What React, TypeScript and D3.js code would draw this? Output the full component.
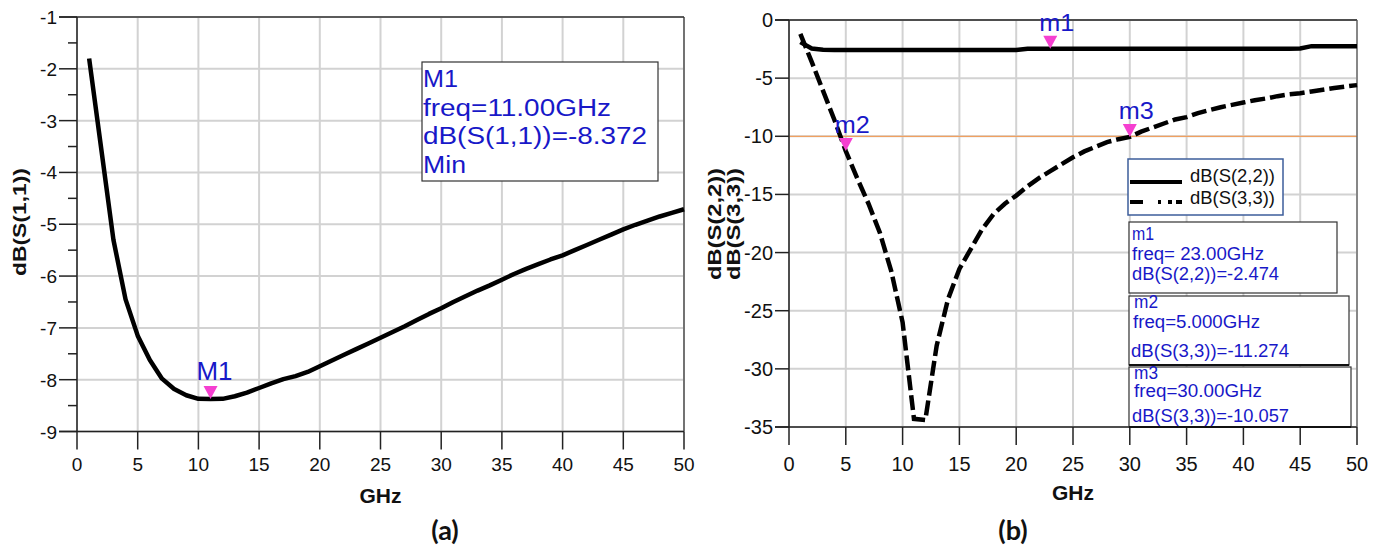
import React from 'react';
import * as d3 from 'd3';

// frequency grid (GHz) shared by all traces
const freqs = [
  1, 2, 3, 4, 5, 6, 7, 8, 9, 10, 11, 12, 13, 14, 15, 16, 17, 18, 19, 20, 21, 22, 23, 24, 25,
  26, 27, 28, 29, 30, 31, 32, 33, 34, 35, 36, 37, 38, 39, 40, 41, 42, 43, 44, 45, 46, 47, 48, 49, 50,
];

const s11 = [
  -1.8, -3.55, -5.3, -6.45, -7.15, -7.62, -7.98, -8.18, -8.3, -8.37, -8.372, -8.37, -8.32, -8.25,
  -8.16, -8.07, -7.99, -7.93, -7.85, -7.74, -7.63, -7.52, -7.41, -7.3, -7.19, -7.08, -6.97, -6.85,
  -6.73, -6.62, -6.5, -6.39, -6.28, -6.18, -6.07, -5.96, -5.86, -5.77, -5.68, -5.6, -5.5, -5.4,
  -5.3, -5.2, -5.1, -5.01, -4.93, -4.85, -4.78, -4.71,
];

const s22 = [
  -1.9, -2.45, -2.55, -2.58, -2.58, -2.58, -2.58, -2.58, -2.58, -2.58, -2.58, -2.58, -2.58, -2.58,
  -2.58, -2.58, -2.58, -2.58, -2.58, -2.58, -2.47, -2.474, -2.474, -2.474, -2.474, -2.474, -2.474,
  -2.474, -2.474, -2.474, -2.474, -2.474, -2.474, -2.474, -2.474, -2.474, -2.474, -2.474, -2.474,
  -2.474, -2.474, -2.474, -2.474, -2.474, -2.45, -2.25, -2.25, -2.25, -2.25, -2.25,
];

const s33 = [
  -1.2, -3.6, -6.1, -8.6, -11.274, -13.6, -15.8, -18.3, -21.6, -26.0, -34.3, -34.4, -28.0, -24.0,
  -21.4, -19.7, -18.0, -16.7, -15.8, -15.1, -14.3, -13.6, -13.0, -12.4, -11.8, -11.3, -10.9, -10.5,
  -10.25, -10.057, -9.6, -9.25, -8.9, -8.55, -8.35, -8.0, -7.75, -7.5, -7.3, -7.1, -6.9, -6.75,
  -6.55, -6.4, -6.3, -6.15, -6.0, -5.85, -5.72, -5.6,
];

const xTicks = [0, 5, 10, 15, 20, 25, 30, 35, 40, 45, 50];
const yTicksA = [-9, -8, -7, -6, -5, -4, -3, -2, -1];
const yMinorA = [-8.5, -7.5, -6.5, -5.5, -4.5, -3.5, -2.5, -1.5];
const yTicksB = [-35, -30, -25, -20, -15, -10, -5, 0];

const markerA = { name: 'M1', freq: 11, value: -8.372 };
const markersB = [
  { name: 'm1', freq: 23, value: -2.474 },
  { name: 'm2', freq: 5, value: -11.274 },
  { name: 'm3', freq: 30, value: -10.057 },
];

const boxA = ['M1', 'freq=11.00GHz', 'dB(S(1,1))=-8.372', 'Min'];
const boxesB = [
  ['m1', 'freq= 23.00GHz', 'dB(S(2,2))=-2.474'],
  ['m2', 'freq=5.000GHz', 'dB(S(3,3))=-11.274'],
  ['m3', 'freq=30.00GHz', 'dB(S(3,3))=-10.057'],
];
const legendB = ['dB(S(2,2))', 'dB(S(3,3))'];

const BLUE = '#1818c8';
const PINK = '#f53fd0';
const GRID = '#d2d2d2';
const FONT = '"Liberation Sans", Arial, sans-serif';

const xA = d3.scaleLinear().domain([0, 50]).range([77, 684]);
const yA = d3.scaleLinear().domain([-9, -1]).range([431.5, 17]);
const xB = d3.scaleLinear().domain([0, 50]).range([789, 1357]);
const yB = d3.scaleLinear().domain([-35, 0]).range([427, 20]);

function Triangle({ x, y }: { x: number; y: number }) {
  return <path d={`M${x},${y} L${x - 7},${y - 13} L${x + 7},${y - 13} Z`} fill={PINK} />;
}

function PanelA() {
  const line = d3
    .line<number>()
    .x((d, i) => xA(freqs[i]))
    .y(d => yA(d));
  const [x0, x1] = xA.range();
  const [y0, y1] = yA.range();
  const mx = xA(markerA.freq);
  const my = yA(markerA.value);
  return (
    <g fontFamily={FONT}>
      {xTicks.map(t => (
        <line key={'gx' + t} x1={xA(t)} x2={xA(t)} y1={y1} y2={y0} stroke={GRID} strokeWidth={2} />
      ))}
      {yTicksA.map(t => (
        <line key={'gy' + t} x1={x0} x2={x1} y1={yA(t)} y2={yA(t)} stroke={GRID} strokeWidth={2} />
      ))}
      <line x1={59} x2={x1} y1={y1} y2={y1} stroke="#333" strokeWidth={1.5} />
      <line x1={59} x2={x1} y1={y0} y2={y0} stroke="#222" strokeWidth={1.5} />
      <line x1={x0} x2={x0} y1={y1} y2={y0} stroke="#222" strokeWidth={1.5} />
      <line x1={x1} x2={x1} y1={y1} y2={y0} stroke="#333" strokeWidth={1.2} />
      {yTicksA.map(t => (
        <g key={'ty' + t}>
          <line x1={59} x2={x0} y1={yA(t)} y2={yA(t)} stroke="#222" strokeWidth={1.5} />
          <text x={57} y={yA(t) + 7} textAnchor="end" fontSize={19} fill="#111">
            {t}
          </text>
        </g>
      ))}
      {yMinorA.map(t => (
        <line key={'my' + t} x1={68} x2={x0} y1={yA(t)} y2={yA(t)} stroke="#222" strokeWidth={1.5} />
      ))}
      {xTicks.map(t => (
        <g key={'tx' + t}>
          <line x1={xA(t)} x2={xA(t)} y1={y0} y2={y0 + 18} stroke="#222" strokeWidth={1.5} />
          <text x={xA(t)} y={471} textAnchor="middle" fontSize={19} fill="#111">
            {t}
          </text>
        </g>
      ))}
      <path d={line(s11) || ''} fill="none" stroke="#000" strokeWidth={4.5} strokeLinejoin="round" />
      <Triangle x={mx} y={my} />
      <text x={mx - 14} y={my - 19} fontSize={25} fill={BLUE} textLength={36} lengthAdjust="spacingAndGlyphs">
        {markerA.name}
      </text>
      <rect x={422} y={62} width={236} height={119} fill="#fff" stroke="#333" strokeWidth={1.2} />
      {boxA.map((s, i) => (
        <text
          key={s}
          x={423}
          y={87 + i * 28.5}
          fontSize={23}
          fill={BLUE}
          textLength={[35, 188, 224, 43][i]}
          lengthAdjust="spacingAndGlyphs"
        >
          {s}
        </text>
      ))}
      <text
        transform="translate(26,222) rotate(-90)"
        textAnchor="middle"
        fontSize={19}
        fontWeight="bold"
        fill="#111"
        textLength={108}
        lengthAdjust="spacingAndGlyphs"
      >
        dB(S(1,1))
      </text>
      <text x={(x0 + x1) / 2} y={503} textAnchor="middle" fontSize={21} fontWeight="bold" fill="#111">
        GHz
      </text>
      <text x={445} y={540} textAnchor="middle" fontSize={27} fontWeight="bold" fill="#111" fontFamily="Lato, 'Open Sans', sans-serif">
        (a)
      </text>
    </g>
  );
}

function PanelB() {
  const line = d3
    .line<number>()
    .x((d, i) => xB(freqs[i]))
    .y(d => yB(d));
  const [x0, x1] = xB.range();
  const [y0, y1] = yB.range();
  const boxY = [222, 296, 367];
  const boxH = [71, 69, 60];
  const boxW = [208, 220, 222];
  const lineY = [[240, 260, 280], [308, 328, 357], [379, 397, 422]];
  const lineX = [[1132, 1132, 1132], [1134, 1133, 1131], [1134, 1134, 1132]];
  const lineW = [[22, 132, 147], [24, 127, 158], [24, 128, 157]];
  return (
    <g fontFamily={FONT}>
      {xTicks.map(t => (
        <line key={'gx' + t} x1={xB(t)} x2={xB(t)} y1={y1} y2={y0} stroke={GRID} strokeWidth={2} />
      ))}
      {yTicksB.map(t => (
        <line key={'gy' + t} x1={x0} x2={x1} y1={yB(t)} y2={yB(t)} stroke={GRID} strokeWidth={2} />
      ))}
      <line x1={x0} x2={x1} y1={yB(-10)} y2={yB(-10)} stroke="#f0a060" strokeWidth={1.2} />
      <line x1={775} x2={x1} y1={y1} y2={y1} stroke="#222" strokeWidth={1.5} />
      <line x1={775} x2={x1} y1={y0} y2={y0} stroke="#222" strokeWidth={1.5} />
      <line x1={x0} x2={x0} y1={y1} y2={y0} stroke="#222" strokeWidth={1.5} />
      <line x1={x1} x2={x1} y1={y1} y2={y0} stroke="#555" strokeWidth={1.2} />
      {yTicksB.map(t => (
        <g key={'ty' + t}>
          <line x1={775} x2={x0} y1={yB(t)} y2={yB(t)} stroke="#222" strokeWidth={1.5} />
          <text x={773} y={yB(t) + 7} textAnchor="end" fontSize={20} fill="#111">
            {t}
          </text>
        </g>
      ))}
      {xTicks.map(t => (
        <g key={'tx' + t}>
          <line x1={xB(t)} x2={xB(t)} y1={y0} y2={y0 + 18} stroke="#222" strokeWidth={1.5} />
          <text x={xB(t)} y={471} textAnchor="middle" fontSize={20} fill="#111">
            {t}
          </text>
        </g>
      ))}
      <path d={line(s22) || ''} fill="none" stroke="#000" strokeWidth={4.5} />
      <path d={line(s33) || ''} fill="none" stroke="#000" strokeWidth={4.5} strokeDasharray="15 5" />
      {markersB.map(m => {
        const mx = xB(m.freq);
        const my = yB(m.value);
        return (
          <g key={m.name}>
            <Triangle x={mx} y={my} />
            <text x={mx - 11} y={my - 18} fontSize={24} fill={BLUE} textLength={35} lengthAdjust="spacingAndGlyphs">
              {m.name}
            </text>
          </g>
        );
      })}
      <rect x={1128} y={159} width={155} height={56} fill="#fff" stroke="#3d5d9b" strokeWidth={1.5} />
      <line x1={1130} x2={1182} y1={182} y2={182} stroke="#000" strokeWidth={4} />
      <line x1={1130} x2={1182} y1={202} y2={202} stroke="#000" strokeWidth={4} strokeDasharray="13 15 3 7 4 4 6" />
      {legendB.map((s, i) => (
        <text key={s} x={1190} y={182 + i * 22} fontSize={18} fill="#111" textLength={85} lengthAdjust="spacingAndGlyphs">
          {s}
        </text>
      ))}
      {boxesB.map((lines, b) => (
        <g key={b}>
          <rect x={1129} y={boxY[b]} width={boxW[b]} height={boxH[b]} fill="#fff" stroke="#333" strokeWidth={1.2} />
          {lines.map((s, i) => (
            <text
              key={s}
              x={lineX[b][i]}
              y={lineY[b][i]}
              fontSize={18}
              fill={BLUE}
              textLength={lineW[b][i]}
              lengthAdjust="spacingAndGlyphs"
            >
              {s}
            </text>
          ))}
        </g>
      ))}
      <line x1={1129} x2={1349} y1={365} y2={365} stroke="#111" strokeWidth={2} />
      <line x1={1129} x2={1351} y1={427} y2={427} stroke="#111" strokeWidth={2} />
      {legendB.map((s, i) => (
        <text
          key={'yl' + s}
          transform={`translate(${721 + i * 19},224) rotate(-90)`}
          textAnchor="middle"
          fontSize={19}
          fontWeight="bold"
          fill="#111"
          textLength={112}
          lengthAdjust="spacingAndGlyphs"
        >
          {s}
        </text>
      ))}
      <text x={(x0 + x1) / 2} y={500} textAnchor="middle" fontSize={21} fontWeight="bold" fill="#111">
        GHz
      </text>
      <text x={1013} y={540} textAnchor="middle" fontSize={27} fontWeight="bold" fill="#111" fontFamily="Lato, 'Open Sans', sans-serif">
        (b)
      </text>
    </g>
  );
}

export default function App() {
  return (
    <svg
      width={1384}
      height={548}
      style={{ position: 'absolute', left: 0, top: 0, background: '#fff' }}
    >
      <rect width={1384} height={548} fill="#fff" />
      <PanelA />
      <PanelB />
    </svg>
  );
}
